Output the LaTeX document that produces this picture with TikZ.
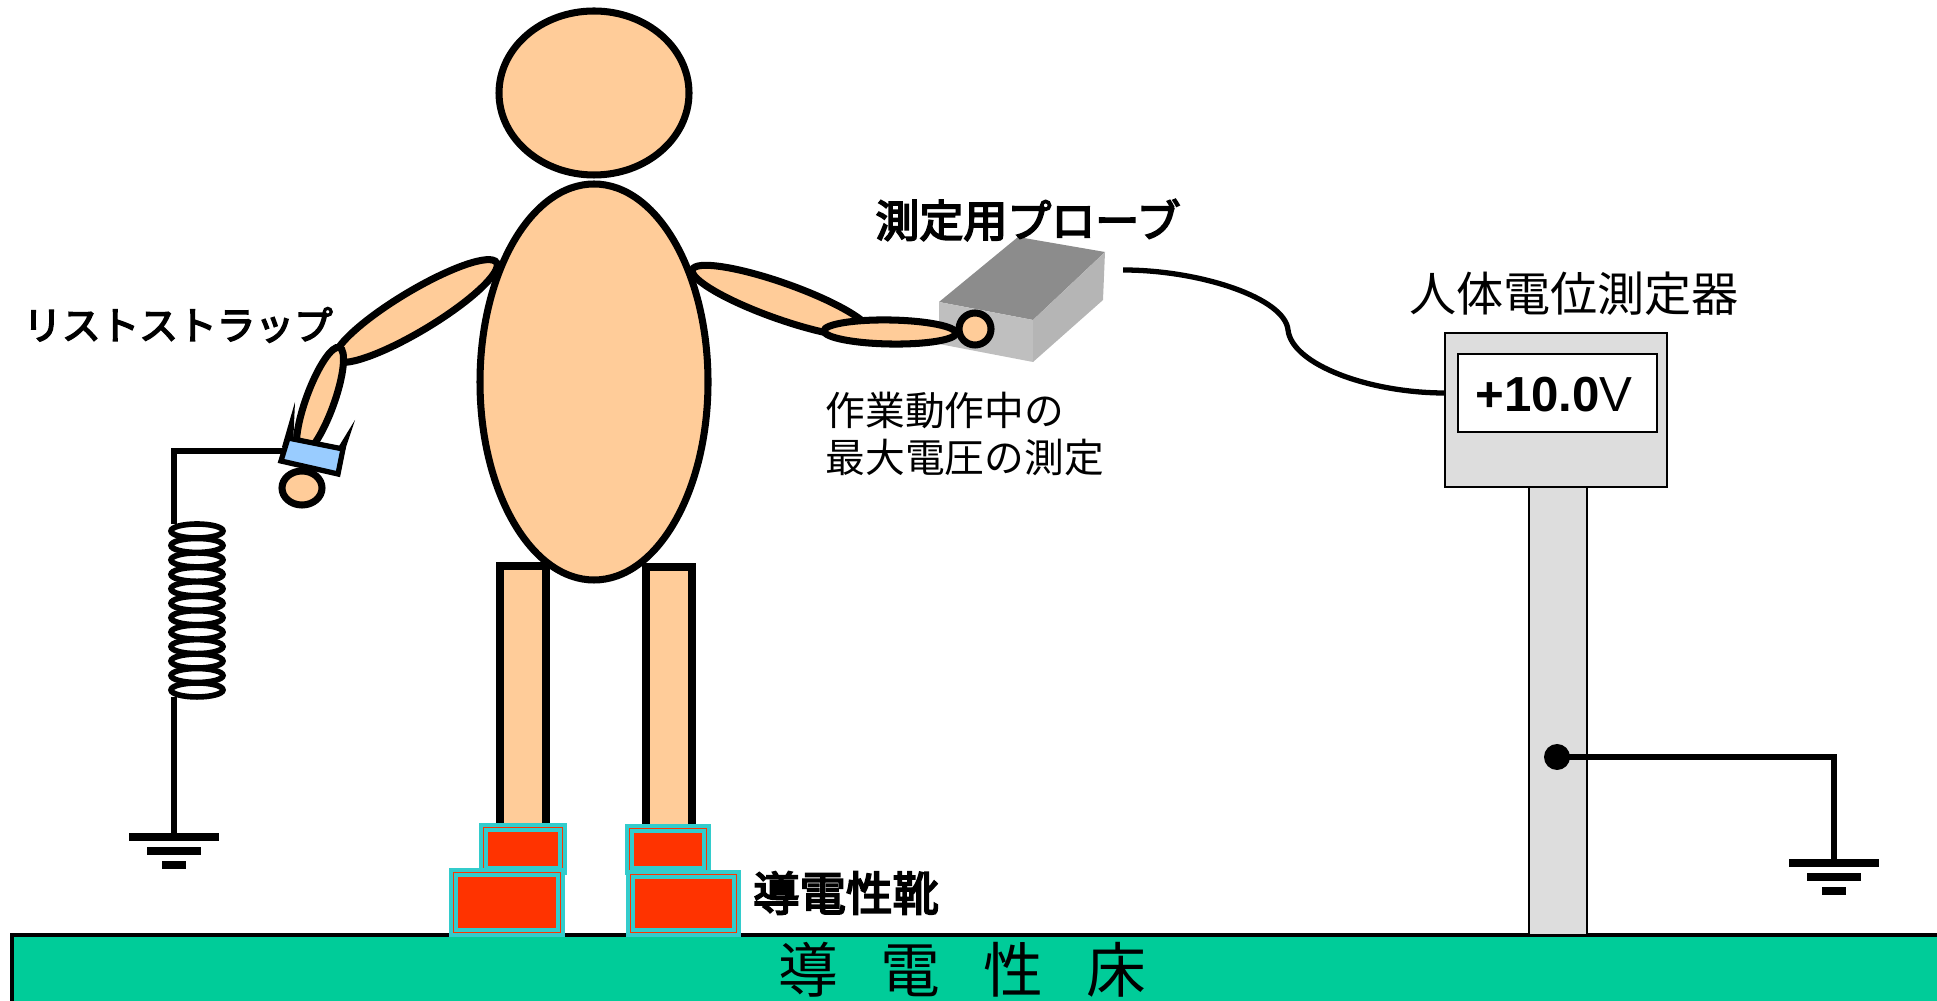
\documentclass[tikz,border=0pt]{standalone}
\usepackage{fontspec}
\newfontfamily\jp{Noto Sans CJK JP}
\newfontfamily\jpb[FakeBold=4]{Noto Sans CJK JP}
\newfontfamily\lat{Liberation Sans}

\definecolor{skin}{HTML}{FFCC99}
\definecolor{shoe}{HTML}{FF3300}
\definecolor{shoeline}{HTML}{33CCCC}
\definecolor{ground}{HTML}{00CC99}
\definecolor{band}{HTML}{99CCFF}
\definecolor{case}{HTML}{DDDDDD}

\tikzset{
  skinpart/.style={draw, line width=2pt, fill=skin},
  wire/.style={line width=1.7pt},
  bar/.style={line width=2pt},
  shoebox/.style={draw=shoeline, line width=0.9pt},
  boxline/.style={draw, line width=0.6pt},
  tag/.style={inner sep=0pt, font=\jpb\fontsize{12.5}{15}\selectfont},
  plain/.style={inner sep=0pt, font=\jp\fontsize{13.4}{16}\selectfont},
}

\begin{document}
\begin{tikzpicture}[x=0.01cm, y=-0.01cm]
  \useasboundingbox (0,0) rectangle (1937,1001);

  \draw[fill=ground, line width=1pt] (12,935) rectangle (1942,1006);

  \draw[skinpart] (500,566) rectangle (546,830);
  \draw[skinpart] (646,567) rectangle (692,830);

  \foreach \a/\b/\c/\d in {481/825/565/873, 451/870/563/935, 627/826/709/873, 628/872/739/935} {
    \draw[shoebox, fill=shoe] (\a,\b) rectangle (\c,\d);
    \draw[shoebox] (\a+5,\b+5) rectangle (\c-5,\d-5);
  }

  \coordinate (wrist) at (288,451);
  \coordinate (coil-top) at (174,524);
  \coordinate (coil-bot) at (174,697);
  \coordinate (gnd-l) at (174,837);
  \coordinate (tap) at (1557,757);
  \coordinate (gnd-r) at (1834,863);
  \coordinate (probe-out) at (1123,270);
  \coordinate (meter-in) at (1445,393);

  \draw[wire] (wrist) -| (coil-top);
  \foreach \i in {0,...,11}
    \draw[line width=1.6pt] (197,531+14.45*\i) ellipse [x radius=26, y radius=7];
  \draw[wire] (coil-bot) -- (gnd-l);

  \draw[skinpart, rotate around={31:(416,311)}] (416,311) ellipse [x radius=94, y radius=20];
  \draw[skinpart, rotate around={70:(320,401)}] (320,401) ellipse [x radius=57, y radius=14];
  \draw[skinpart] (302,488) ellipse [x radius=20, y radius=17];
  \fill (282,447) -- (295,402) -- (293,447) -- cycle;
  \fill (336,451) -- (355,420) -- (344,453) -- cycle;
  \draw[line width=1.5pt, fill=band] (288,438) -- (343,449) -- (338,474) -- (281,461) -- cycle;

  \draw[skinpart, rotate around={-19.5:(781,301)}] (781,301) ellipse [x radius=94, y radius=18];
  \draw[skinpart] (594,382) ellipse [x radius=114, y radius=198];
  \draw[skinpart] (594,93) ellipse [x radius=95, y radius=82];

  \fill[gray!90] (939,302) -- (1018,237) -- (1105,252) -- (1033,320) -- cycle;
  \fill[gray!50] (939,302) -- (1033,320) -- (1033,362) -- (939,344) -- cycle;
  \fill[gray!58] (1033,320) -- (1105,252) -- (1103,300) -- (1033,362) -- cycle;

  \draw[skinpart, rotate around={-1:(890,332)}] (890,332) ellipse [x radius=66, y radius=12];
  \draw[skinpart] (975,329) circle [radius=16];

  \draw[line width=1.5pt] (probe-out) .. controls (1200,270) and (1285,298) .. (1288,330)
    .. controls (1292,365) and (1370,393) .. (meter-in);

  \draw[boxline, fill=case] (1529,487) rectangle (1587,935);
  \draw[boxline, fill=case] (1445,333) rectangle (1667,487);
  \draw[boxline, fill=white] (1458,354) rectangle (1657,432);

  \fill (tap) circle [radius=13];
  \draw[wire] (tap) -| (gnd-r);
  \foreach \g in {gnd-l, gnd-r}
    \foreach \w/\d in {45/0, 27/14, 12/28}
      \draw[bar] ([shift={(-\w,\d)}]\g) -- ([shift={(\w,\d)}]\g);

  \node[tag, font=\jpb\fontsize{11}{13}\selectfont] (strap-label) at (178,325) {リストストラップ};
  \node[tag] (probe-label) at (1028,220) {測定用プローブ};
  \node[tag, font=\jpb\fontsize{13.2}{15}\selectfont] (shoe-label) at (846,893) {導電性靴};
  \node[plain] (meter-label) at (1574,294) {人体電位測定器};
  \node[plain, font=\jp\fontsize{11.3}{13.4}\selectfont, align=left, anchor=west] (note) at (825,434)
    {作業動作中の\\最大電圧の測定};
  \node[plain, font=\jp\fontsize{17}{20}\selectfont] (floor-label) at (962,970)
    {導\hspace{12.2pt}電\hspace{12.2pt}性\hspace{12.2pt}床};
  \node[inner sep=0pt, font=\lat\fontsize{14}{16}\selectfont] (reading) at (1554,395)
    {\bfseries +10.0\mdseries V};
\end{tikzpicture}
\end{document}
